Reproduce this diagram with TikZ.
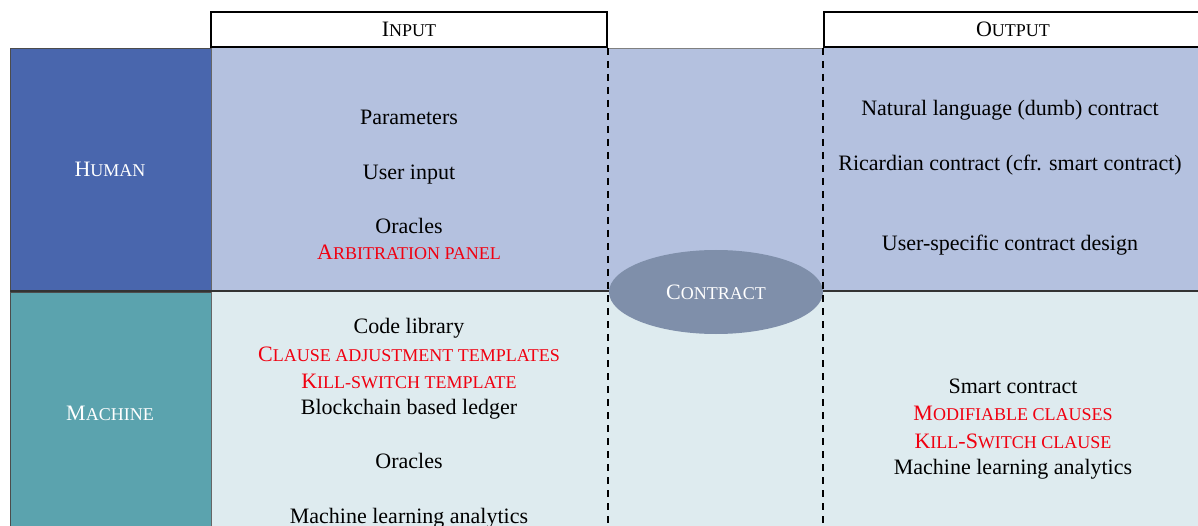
\documentclass[tikz,border=0pt]{standalone}
\usepackage{fontspec}
\setmainfont{Liberation Serif}
\usetikzlibrary{shapes.geometric}
\newcommand\SCs[1]{{\fontsize{18}{21}\selectfont #1}}
\definecolor{hdark}{HTML}{4966AD}
\definecolor{hlight}{HTML}{B4C1DF}
\definecolor{mdark}{HTML}{5BA3AE}
\definecolor{mlight}{HTML}{DEEBEF}
\definecolor{ellc}{HTML}{7F8FAA}
\definecolor{redt}{HTML}{F00010}
\tikzset{
  txt/.style={font=\fontsize{22}{26}\selectfont, inner sep=0pt, anchor=base},
  redtxt/.style={txt, text=redt},
  lbl/.style={txt, text=white},
  hdr/.style={draw=black, line width=2pt, fill=white},
  dashv/.style={line width=2pt, dash pattern=on 7pt off 6pt},
}
\begin{document}
\begin{tikzpicture}[x=1pt,y=-1pt]
\useasboundingbox (0,0) rectangle (1198,526);
% fills
\fill[hlight] (211,48) rectangle (1198,291);
\fill[mlight] (211,291) rectangle (1198,526);
\draw[fill=hdark, draw=black!70, line width=0.8pt] (10,48) rectangle (211,290);
\draw[fill=mdark, draw=black!70, line width=0.8pt] (10,292) rectangle (211,530);
\draw[black!60, line width=0.8pt] (211,48) -- (211,530);
% headers
\node[hdr, minimum width=396pt, minimum height=35pt, inner sep=0pt] (inhdr) at (409,30) {};
\node[hdr, minimum width=390pt, minimum height=35pt, inner sep=0pt, anchor=west] (outhdr) at (823,30) {};
\node[txt] (intext) at (409,37) {I\SCs{NPUT}};
\node[txt] (outtext) at (1013,37) {O\SCs{UTPUT}};
\draw[black!50, line width=0.6pt] (607,48) -- (823,48);
% row divider
\draw[black!80, line width=1.6pt] (10,291) -- (1198,291);
% ellipse
\node[ellipse, fill=ellc, minimum width=214pt, minimum height=84pt, inner sep=0pt] (contract) at (716,292) {};
\node[lbl] (contracttxt) at (716,299) {C\SCs{ONTRACT}};
% dashed lines
\draw[dashv] (608,48) -- (608,526);
\draw[dashv] (823,48) -- (823,526);
% row labels
\node[lbl] (human) at (110,177) {H\SCs{UMAN}};
\node[lbl] (machine) at (110,420) {M\SCs{ACHINE}};
% human input
\node[txt] (p1) at (409,125) {Parameters};
\node[txt] (p2) at (409,180) {User input};
\node[txt] (p3) at (409,234) {Oracles};
\node[redtxt] (p4) at (409,260) {A\SCs{RBITRATION PANEL}};
% human output
\node[txt] (o1) at (1010,116) {Natural language (dumb) contract};
\node[txt] (o2) at (1010,171) {Ricardian contract (cfr. smart contract)};
\node[txt] (o3) at (1010,251) {User-specific contract design};
% machine input
\node[txt] (m1) at (409,333) {Code library};
\node[redtxt] (m2) at (409,361) {C\SCs{LAUSE ADJUSTMENT TEMPLATES}};
\node[redtxt] (m3) at (409,388) {K\SCs{ILL-SWITCH TEMPLATE}};
\node[txt] (m4) at (409,414) {Blockchain based ledger};
\node[txt] (m5) at (409,468) {Oracles};
\node[txt] (m6) at (409,523) {Machine learning analytics};
% machine output
\node[txt] (q1) at (1013,393) {Smart contract};
\node[redtxt] (q2) at (1013,420) {M\SCs{ODIFIABLE CLAUSES}};
\node[redtxt] (q3) at (1013,448) {K\SCs{ILL}-S\SCs{WITCH CLAUSE}};
\node[txt] (q4) at (1013,474) {Machine learning analytics};
\end{tikzpicture}
\end{document}
